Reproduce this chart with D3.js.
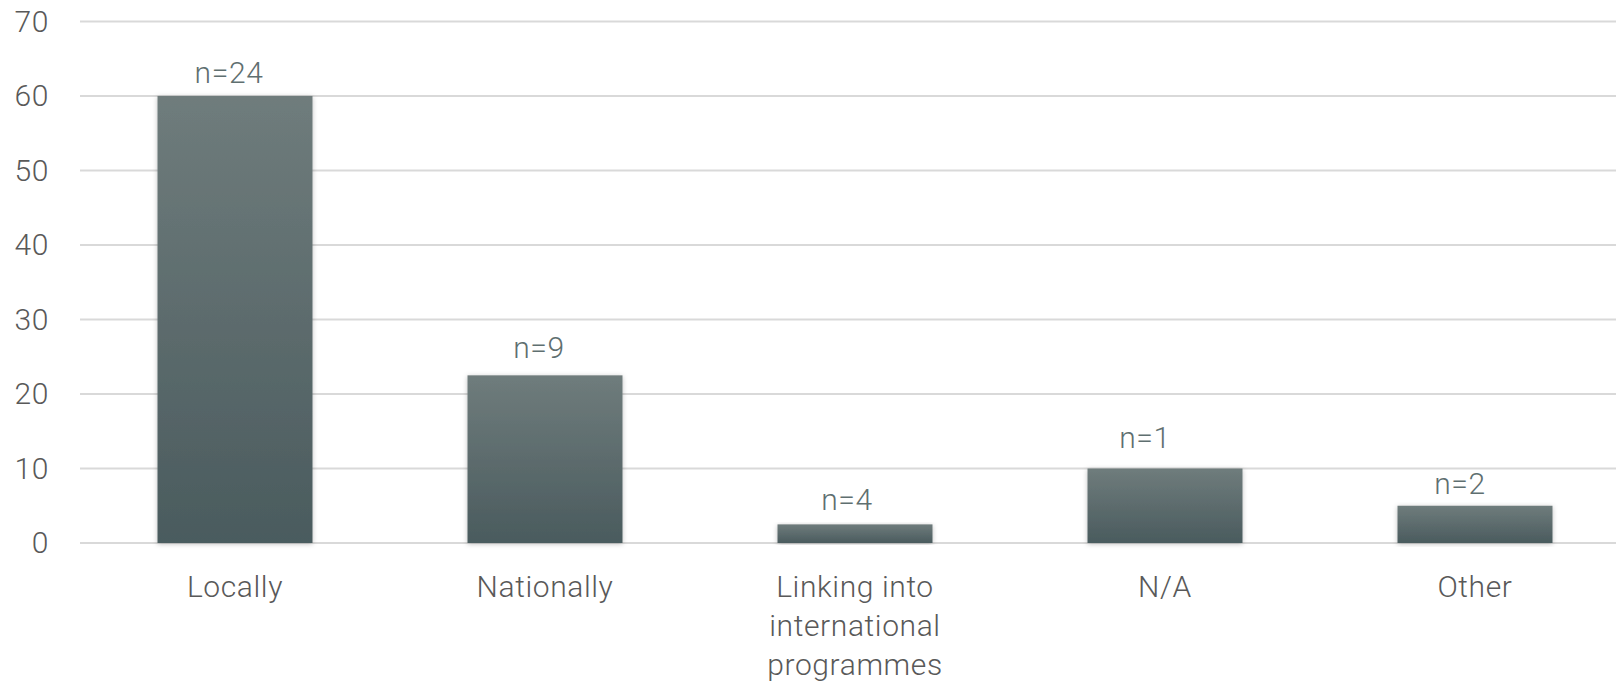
<!DOCTYPE html>
<html>
<head>
<meta charset="utf-8">
<script src="https://cdn.jsdelivr.net/npm/d3@7"></script>
<style>
  body { margin: 0; background: #fff; }
  svg { display: block; }
  text { font-family: Roboto, "Helvetica Neue", Arial, sans-serif; font-weight: 300; letter-spacing: 0.6px; }
</style>
</head>
<body>
<svg id="chart" width="1616" height="684"></svg>
<script>
var categories = ['Locally', 'Nationally', 'Linking into international programmes', 'N/A', 'Other'];
var values = [60, 22.5, 2.5, 10, 5];
var counts = ['n=24', 'n=9', 'n=4', 'n=1', 'n=2'];
var yTicks = [0, 10, 20, 30, 40, 50, 60, 70];

var WIDTH = 1616, HEIGHT = 684;
var LEFT = 80, RIGHT = 1630, TOP = 21.4, BOTTOM = 543;
var FONT_SIZE = 30;
// the count labels were placed by hand in the original, so each sits a bit off centre
var LABEL_DX = [-6, -6, -8, -20, -15];
var LABEL_GAP = [13, 17, 14, 20, 12];

var svg = d3.select('#chart');

var defs = svg.append('defs');
var grad = defs.append('linearGradient')
    .attr('id', 'barGrad')
    .attr('x1', 0).attr('y1', 0).attr('x2', 0).attr('y2', 1);
grad.append('stop').attr('offset', '0%').attr('stop-color', '#6f7c7c');
grad.append('stop').attr('offset', '100%').attr('stop-color', '#4a5b5e');

var shadow = defs.append('filter')
    .attr('id', 'shadow')
    .attr('x', '-10%').attr('y', '-10%').attr('width', '120%').attr('height', '120%');
shadow.append('feDropShadow')
    .attr('dx', 0).attr('dy', 1)
    .attr('stdDeviation', 2.5)
    .attr('flood-color', '#000')
    .attr('flood-opacity', 0.25);

var x = d3.scaleBand()
    .domain(categories)
    .range([LEFT, RIGHT])
    .paddingInner(0.5)
    .paddingOuter(0.25);

var y = d3.scaleLinear()
    .domain([0, 70])
    .range([BOTTOM, TOP]);

// grid lines
svg.append('g')
    .selectAll('line')
    .data(yTicks)
    .enter()
    .append('line')
    .attr('x1', LEFT)
    .attr('x2', WIDTH)
    .attr('y1', function (d) { return y(d); })
    .attr('y2', function (d) { return y(d); })
    .style('stroke', '#d9d9d9')
    .style('stroke-width', 2);

// y axis labels
var yAxis = d3.axisLeft(y)
    .tickValues(yTicks)
    .tickSize(0)
    .tickPadding(0);
var yg = svg.append('g')
    .attr('transform', 'translate(49,0)')
    .call(yAxis);
yg.select('.domain').remove();
yg.attr('font-family', null);
yg.selectAll('text')
    .style('font-size', FONT_SIZE + 'px')
    .style('fill', '#595959');

// bars
svg.append('g')
    .selectAll('rect')
    .data(values)
    .enter()
    .append('rect')
    .attr('x', function (d, i) { return x(categories[i]); })
    .attr('y', function (d) { return y(d); })
    .attr('width', x.bandwidth())
    .attr('height', function (d) { return y(0) - y(d); })
    .style('fill', 'url(#barGrad)')
    .attr('filter', 'url(#shadow)');

// count labels
svg.append('g')
    .selectAll('text')
    .data(values)
    .enter()
    .append('text')
    .attr('x', function (d, i) { return x(categories[i]) + x.bandwidth() / 2 + LABEL_DX[i]; })
    .attr('y', function (d, i) { return y(d) - LABEL_GAP[i]; })
    .attr('text-anchor', 'middle')
    .style('font-size', FONT_SIZE + 'px')
    .style('fill', '#5f6f70')
    .text(function (d, i) { return counts[i]; });

// category labels, wrapped
var catG = svg.append('g');
categories.forEach(function (c) {
    var cx = x(c) + x.bandwidth() / 2;
    var t = catG.append('text')
        .attr('x', cx)
        .attr('y', 597)
        .attr('text-anchor', 'middle')
        .style('font-size', FONT_SIZE + 'px')
        .style('fill', '#595959');
    var words = c.split(' ');
    var line = [];
    var tspan = t.append('tspan').attr('x', cx).attr('dy', 0);
    words.forEach(function (w) {
        line.push(w);
        tspan.text(line.join(' '));
        if (tspan.node().getComputedTextLength() > 200 && line.length > 1) {
            line.pop();
            tspan.text(line.join(' '));
            line = [w];
            tspan = t.append('tspan')
                .attr('x', cx)
                .attr('dy', 39)
                .text(w);
        }
    });
});
</script>
</body>
</html>
